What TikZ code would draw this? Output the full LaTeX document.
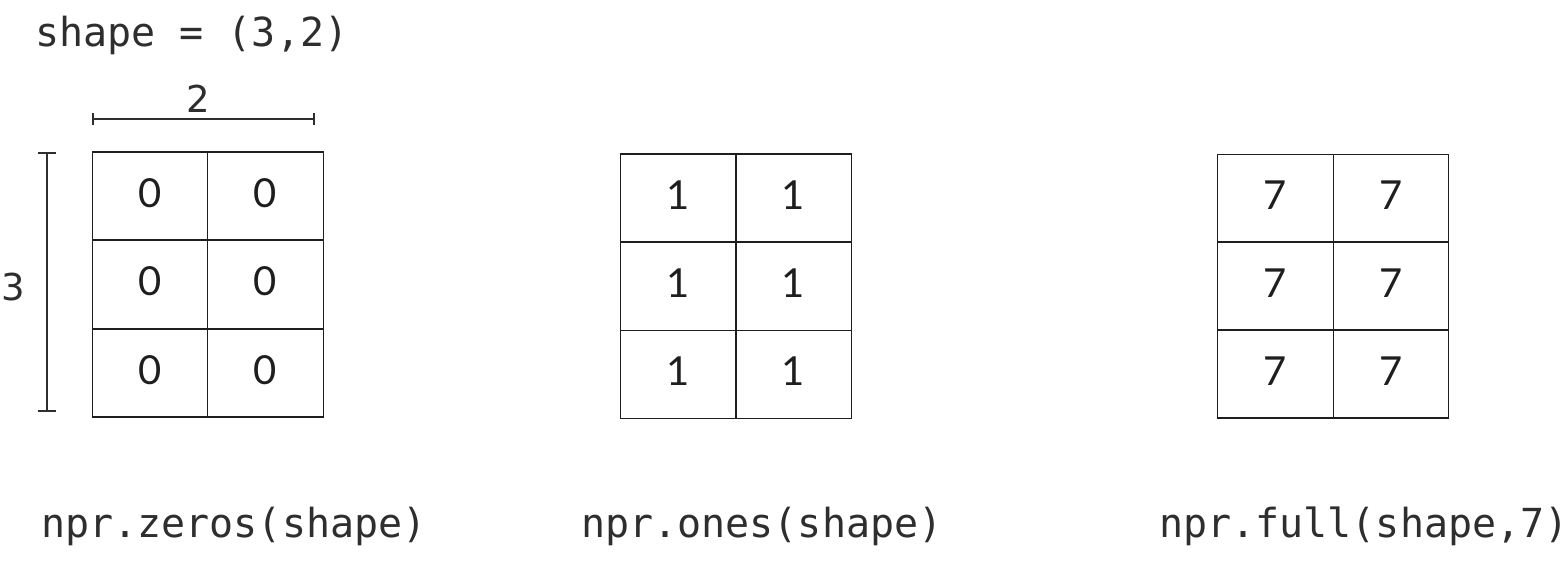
\documentclass[tikz,border=0pt]{standalone}
\usepackage{fontspec}
\setmonofont{DejaVu Sans Mono}
\newfontfamily\digitfont{Lato}
\newfontfamily\labelfont{DejaVu Sans}
\usetikzlibrary{arrows.meta}
\definecolor{ink}{HTML}{1E1E1E}
\definecolor{codegray}{HTML}{2E2E2E}
\tikzset{
  cellbox/.style={draw=ink, line width=1.2pt, minimum width=115.5pt, minimum height=88pt, inner sep=0pt,
    text depth=6pt, font=\digitfont\fontsize{40}{40}\selectfont, text=ink},
  codetext/.style={font=\ttfamily\fontsize{40}{40}\selectfont, text=codegray, inner sep=0pt, anchor=base west},
  dimlabel/.style={font=\labelfont\fontsize{37}{37}\selectfont, text=codegray, inner sep=0pt, anchor=base},
  dimline/.style={draw=codegray, line width=1.7pt},
}
\begin{document}
\begin{tikzpicture}[x=1pt,y=-1pt]
\useasboundingbox (0,0) rectangle (1568,566);
% title
\node[codetext] (title) at (35,46) {shape = (3,2)};
% grid 1
\foreach \r/\y in {1/196,2/284.5,3/373} {
  \node[cellbox] (z\r a) at (150,\y) {0};
  \node[cellbox] (z\r b) at (265.5,\y) {0};
}
% grid 2
\foreach \r/\y in {1/198,2/286.5,3/374.5} {
  \node[cellbox] (o\r a) at (678.5,\y) {1};
  \node[cellbox] (o\r b) at (793.5,\y) {1};
}
% grid 3
\foreach \r/\y in {1/198.5,2/286,3/374} {
  \node[cellbox] (f\r a) at (1275.5,\y) {7};
  \node[cellbox] (f\r b) at (1391,\y) {7};
}
% dimension lines
\coordinate (h1) at (92,119);
\coordinate (h2) at (315,119);
\draw[dimline, {Bar[width=12pt,line width=1.7pt]}-{Bar[width=12pt,line width=1.7pt]}] (h1) -- (h2);
\node[dimlabel] (two) at (198,112) {2};
\coordinate (v1) at (47,152);
\coordinate (v2) at (47,412);
\draw[dimline, {Bar[width=18pt,line width=1.7pt]}-{Bar[width=18pt,line width=1.7pt]}] (v1) -- (v2);
\node[dimlabel] (three) at (13,300) {3};
% captions
\node[codetext] (cap1) at (41,537) {npr.zeros(shape)};
\node[codetext] (cap2) at (581,537) {npr.ones(shape)};
\node[codetext] (cap3) at (1159,537) {npr.full(shape,7)};
\end{tikzpicture}
\end{document}
